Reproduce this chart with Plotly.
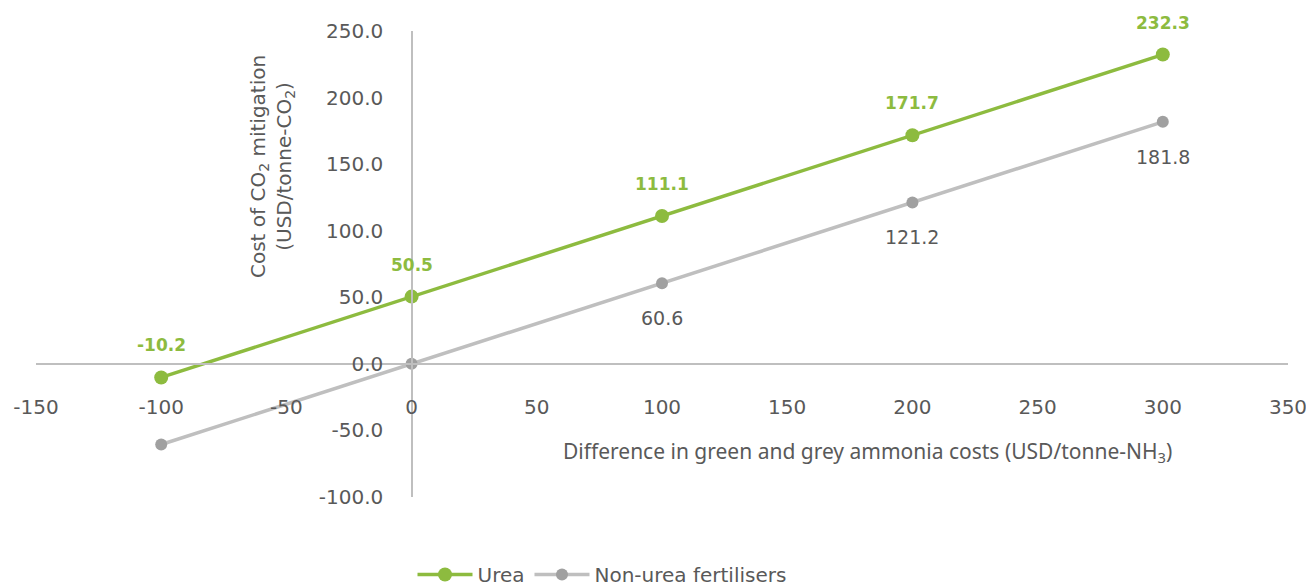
import plotly.graph_objects as go

# Cost difference between green and grey ammonia (USD/tonne-NH3)
cost_diff = [-100, 0, 100, 200, 300]
# Cost of CO2 mitigation (USD/tonne-CO2)
urea = [-10.2, 50.5, 111.1, 171.7, 232.3]
non_urea = [-60.6, 0.0, 60.6, 121.2, 181.8]
non_urea_labelled = [False, False, True, True, True]

x_ticks = [-150, -100, -50, 0, 50, 100, 150, 200, 250, 300, 350]
y_ticks = [-100, -50, 0, 50, 100, 150, 200, 250]

GREEN = "#8DBB3F"
GREY_LINE = "#BFBFBF"
GREY_MARK = "#A0A0A0"
TEXT = "#595959"
FONT = "DejaVu Sans"

W, H = 1306, 588

fig = go.Figure()
fig.add_trace(go.Scatter(
    x=cost_diff, y=urea, name="Urea", mode="lines+markers",
    line=dict(color=GREEN, width=3.5),
    marker=dict(color=GREEN, size=14),
))
fig.add_trace(go.Scatter(
    x=cost_diff, y=non_urea, name="Non-urea fertilisers", mode="lines+markers",
    line=dict(color=GREY_LINE, width=3.5),
    marker=dict(color=GREY_MARK, size=12),
))

# value labels
for xv, yv in zip(cost_diff, urea):
    fig.add_annotation(x=xv, y=yv, text=f"<b>{yv:.1f}</b>", showarrow=False,
                       xanchor="center", yanchor="middle",
                       yshift=32, font=dict(family=FONT, size=17, color=GREEN))
for xv, yv, show in zip(cost_diff, non_urea, non_urea_labelled):
    if show:
        fig.add_annotation(x=xv, y=yv, text=f"{yv:.1f}", showarrow=False,
                           xanchor="center", yanchor="middle",
                           yshift=-35, font=dict(family=FONT, size=19, color=TEXT))

# axis titles
fig.add_annotation(
    xref="paper", yref="paper", x=272 / W, y=1 - 167 / H,
    xanchor="center", yanchor="middle",
    text="Cost of CO<sub>2</sub> mitigation<br>(USD/tonne-CO<sub>2</sub>)",
    textangle=-90, showarrow=False,
    font=dict(family=FONT, size=20, color=TEXT),
)
fig.add_annotation(
    xref="paper", yref="paper", x=867 / W, y=1 - 452 / H,
    xanchor="center", yanchor="middle",
    text="Difference in green and grey ammonia costs (USD/tonne-NH<sub>3</sub>)",
    showarrow=False, font=dict(family="Noto Sans", size=21, color=TEXT),
)

fig.update_layout(
    width=W, height=H,
    margin=dict(l=0, r=0, t=0, b=0, autoexpand=False),
    paper_bgcolor="white", plot_bgcolor="white",
    font=dict(family=FONT, size=20, color=TEXT),
    showlegend=True,
    legend=dict(orientation="h", x=602 / W, xanchor="center",
                y=-6 / H, yanchor="bottom",
                font=dict(family=FONT, size=20, color=TEXT), itemwidth=55),
    xaxis=dict(
        domain=[36 / W, 1288 / W], range=[-150, 350],
        tickvals=x_ticks, ticktext=[str(v) for v in x_ticks],
        showgrid=False, zeroline=False, automargin=False,
        ticklabeloverflow="allow",
        showline=True, linecolor=GREY_LINE, linewidth=1.5,
        anchor="free", position=1 - 364 / H,
        ticks="", ticklabelstandoff=25,
        tickfont=dict(family=FONT, size=20, color=TEXT),
    ),
    yaxis=dict(
        domain=[1 - 497 / H, 1 - 31 / H], range=[-100, 250],
        tickvals=y_ticks, ticktext=[f"{v:.1f}" for v in y_ticks],
        showgrid=False, zeroline=False, automargin=False,
        ticklabeloverflow="allow",
        showline=True, linecolor=GREY_LINE, linewidth=1.5,
        anchor="free", position=412 / W,
        ticks="", ticklabelstandoff=24,
        tickfont=dict(family=FONT, size=20, color=TEXT),
    ),
)

fig.write_html("out.html")
